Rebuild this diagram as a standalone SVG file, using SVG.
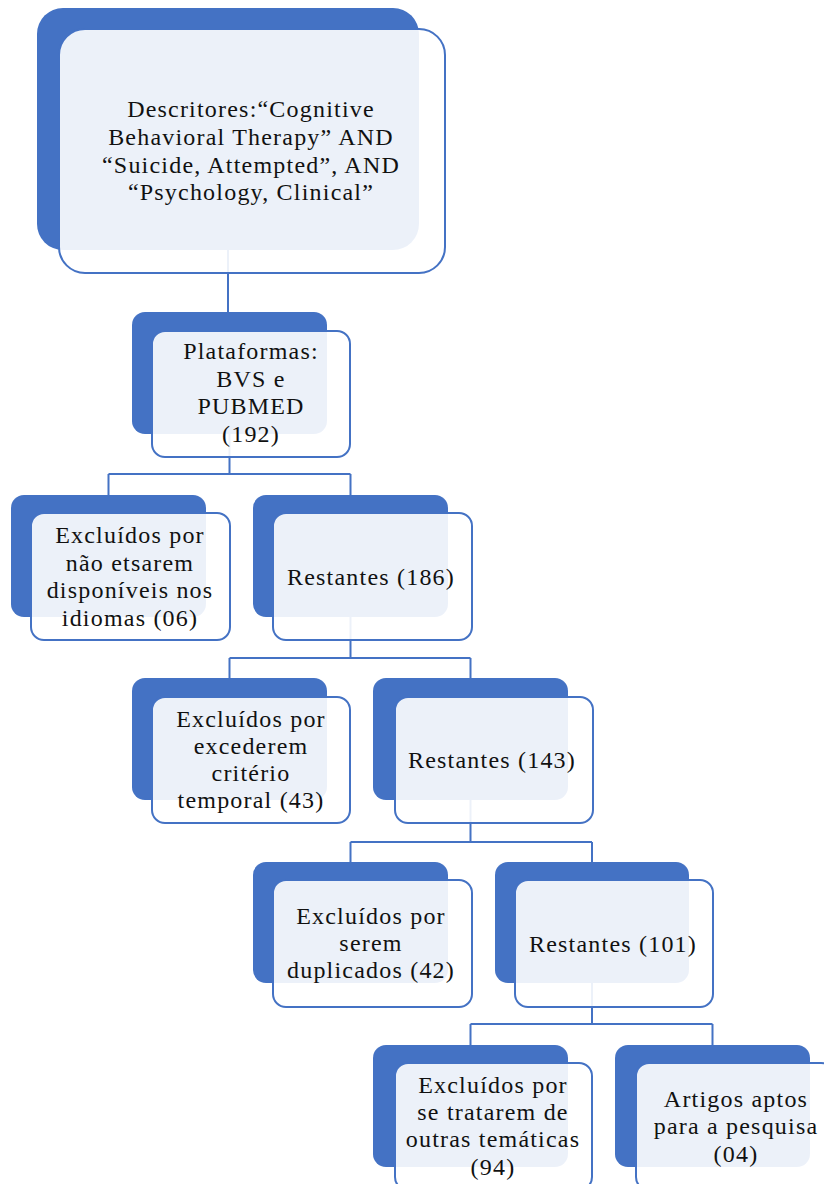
<svg xmlns="http://www.w3.org/2000/svg" width="824" height="1184" viewBox="0 0 824 1184">
<style>
.back{fill:#4472C4;}
.front{fill:#FFFFFF;fill-opacity:0.9;stroke:#4472C4;stroke-width:2;}
.conn{fill:none;stroke:#4472C4;stroke-width:2;}
.t{font-family:'Liberation Serif','DejaVu Serif',serif;font-size:24px;letter-spacing:1.2px;fill:#111111;text-anchor:middle;}
</style>
<rect width="824" height="1184" fill="#FFFFFF"/>
<g id="connectors">
<path class="conn" d="M228,250 V312"/>
<path class="conn" d="M229.5,434 V474 M108.5,474 H350.5 M108.5,474 V495 M350.5,474 V495"/>
<path class="conn" d="M350.5,617 V658 M229.5,658 H470.5 M229.5,658 V678 M470.5,658 V678"/>
<path class="conn" d="M470.5,800 V842 M350.5,842 H592 M350.5,842 V862 M592,842 V862"/>
<path class="conn" d="M592,983 V1024 M470.5,1024 H712.5 M470.5,1024 V1045 M712.5,1024 V1045"/>
</g>
<g id="node-descritores">
<rect class="back" x="37" y="8" width="382" height="242" rx="26"/>
<rect class="front" x="59" y="29" width="386" height="244" rx="26"/>
<text class="t" x="251" y="117">Descritores:“Cognitive</text>
<text class="t" x="251" y="145">Behavioral Therapy” AND</text>
<text class="t" x="251" y="173">“Suicide, Attempted”, AND</text>
<text class="t" x="251" y="200">“Psychology, Clinical”</text>
</g>
<g id="node-plataformas">
<rect class="back" x="132" y="312" width="195" height="122" rx="13"/>
<rect class="front" x="152" y="331" width="198" height="126" rx="13"/>
<text class="t" x="251" y="359">Plataformas:</text>
<text class="t" x="251" y="387">BVS e</text>
<text class="t" x="251" y="414">PUBMED</text>
<text class="t" x="251" y="442">(192)</text>
</g>
<g id="node-excluidos-06">
<rect class="back" x="11" y="495" width="195" height="122" rx="13"/>
<rect class="front" x="31" y="513" width="199" height="127" rx="13"/>
<text class="t" x="130" y="543">Excluídos por</text>
<text class="t" x="130" y="571">não etsarem</text>
<text class="t" x="130" y="598">disponíveis nos</text>
<text class="t" x="130" y="626">idiomas (06)</text>
</g>
<g id="node-restantes-186">
<rect class="back" x="253" y="495" width="195" height="122" rx="13"/>
<rect class="front" x="273" y="513" width="199" height="127" rx="13"/>
<text class="t" x="371" y="585">Restantes (186)</text>
</g>
<g id="node-excluidos-43">
<rect class="back" x="132" y="678" width="195" height="122" rx="13"/>
<rect class="front" x="152" y="697" width="198" height="126" rx="13"/>
<text class="t" x="251" y="727">Excluídos por</text>
<text class="t" x="251" y="754">excederem</text>
<text class="t" x="251" y="781">critério</text>
<text class="t" x="251" y="808">temporal (43)</text>
</g>
<g id="node-restantes-143">
<rect class="back" x="373" y="678" width="195" height="122" rx="13"/>
<rect class="front" x="395" y="697" width="198" height="126" rx="13"/>
<text class="t" x="492" y="768">Restantes (143)</text>
</g>
<g id="node-excluidos-42">
<rect class="back" x="253" y="862" width="195" height="121" rx="13"/>
<rect class="front" x="273" y="880" width="199" height="127" rx="13"/>
<text class="t" x="371" y="924">Excluídos por</text>
<text class="t" x="371" y="951">serem</text>
<text class="t" x="371" y="978">duplicados (42)</text>
</g>
<g id="node-restantes-101">
<rect class="back" x="495" y="862" width="194" height="121" rx="13"/>
<rect class="front" x="515" y="880" width="198" height="127" rx="13"/>
<text class="t" x="613" y="952">Restantes (101)</text>
</g>
<g id="node-excluidos-94">
<rect class="back" x="373" y="1045" width="195" height="122" rx="13"/>
<rect class="front" x="395" y="1063" width="197" height="127" rx="13"/>
<text class="t" x="493" y="1093">Excluídos por</text>
<text class="t" x="493" y="1120">se tratarem de</text>
<text class="t" x="493" y="1147">outras temáticas</text>
<text class="t" x="493" y="1175">(94)</text>
</g>
<g id="node-artigos">
<rect class="back" x="615" y="1045" width="195" height="122" rx="13"/>
<rect class="front" x="636" y="1063" width="198" height="127" rx="13"/>
<text class="t" x="736" y="1107">Artigos aptos</text>
<text class="t" x="736" y="1134">para a pesquisa</text>
<text class="t" x="736" y="1162">(04)</text>
</g>
</svg>
